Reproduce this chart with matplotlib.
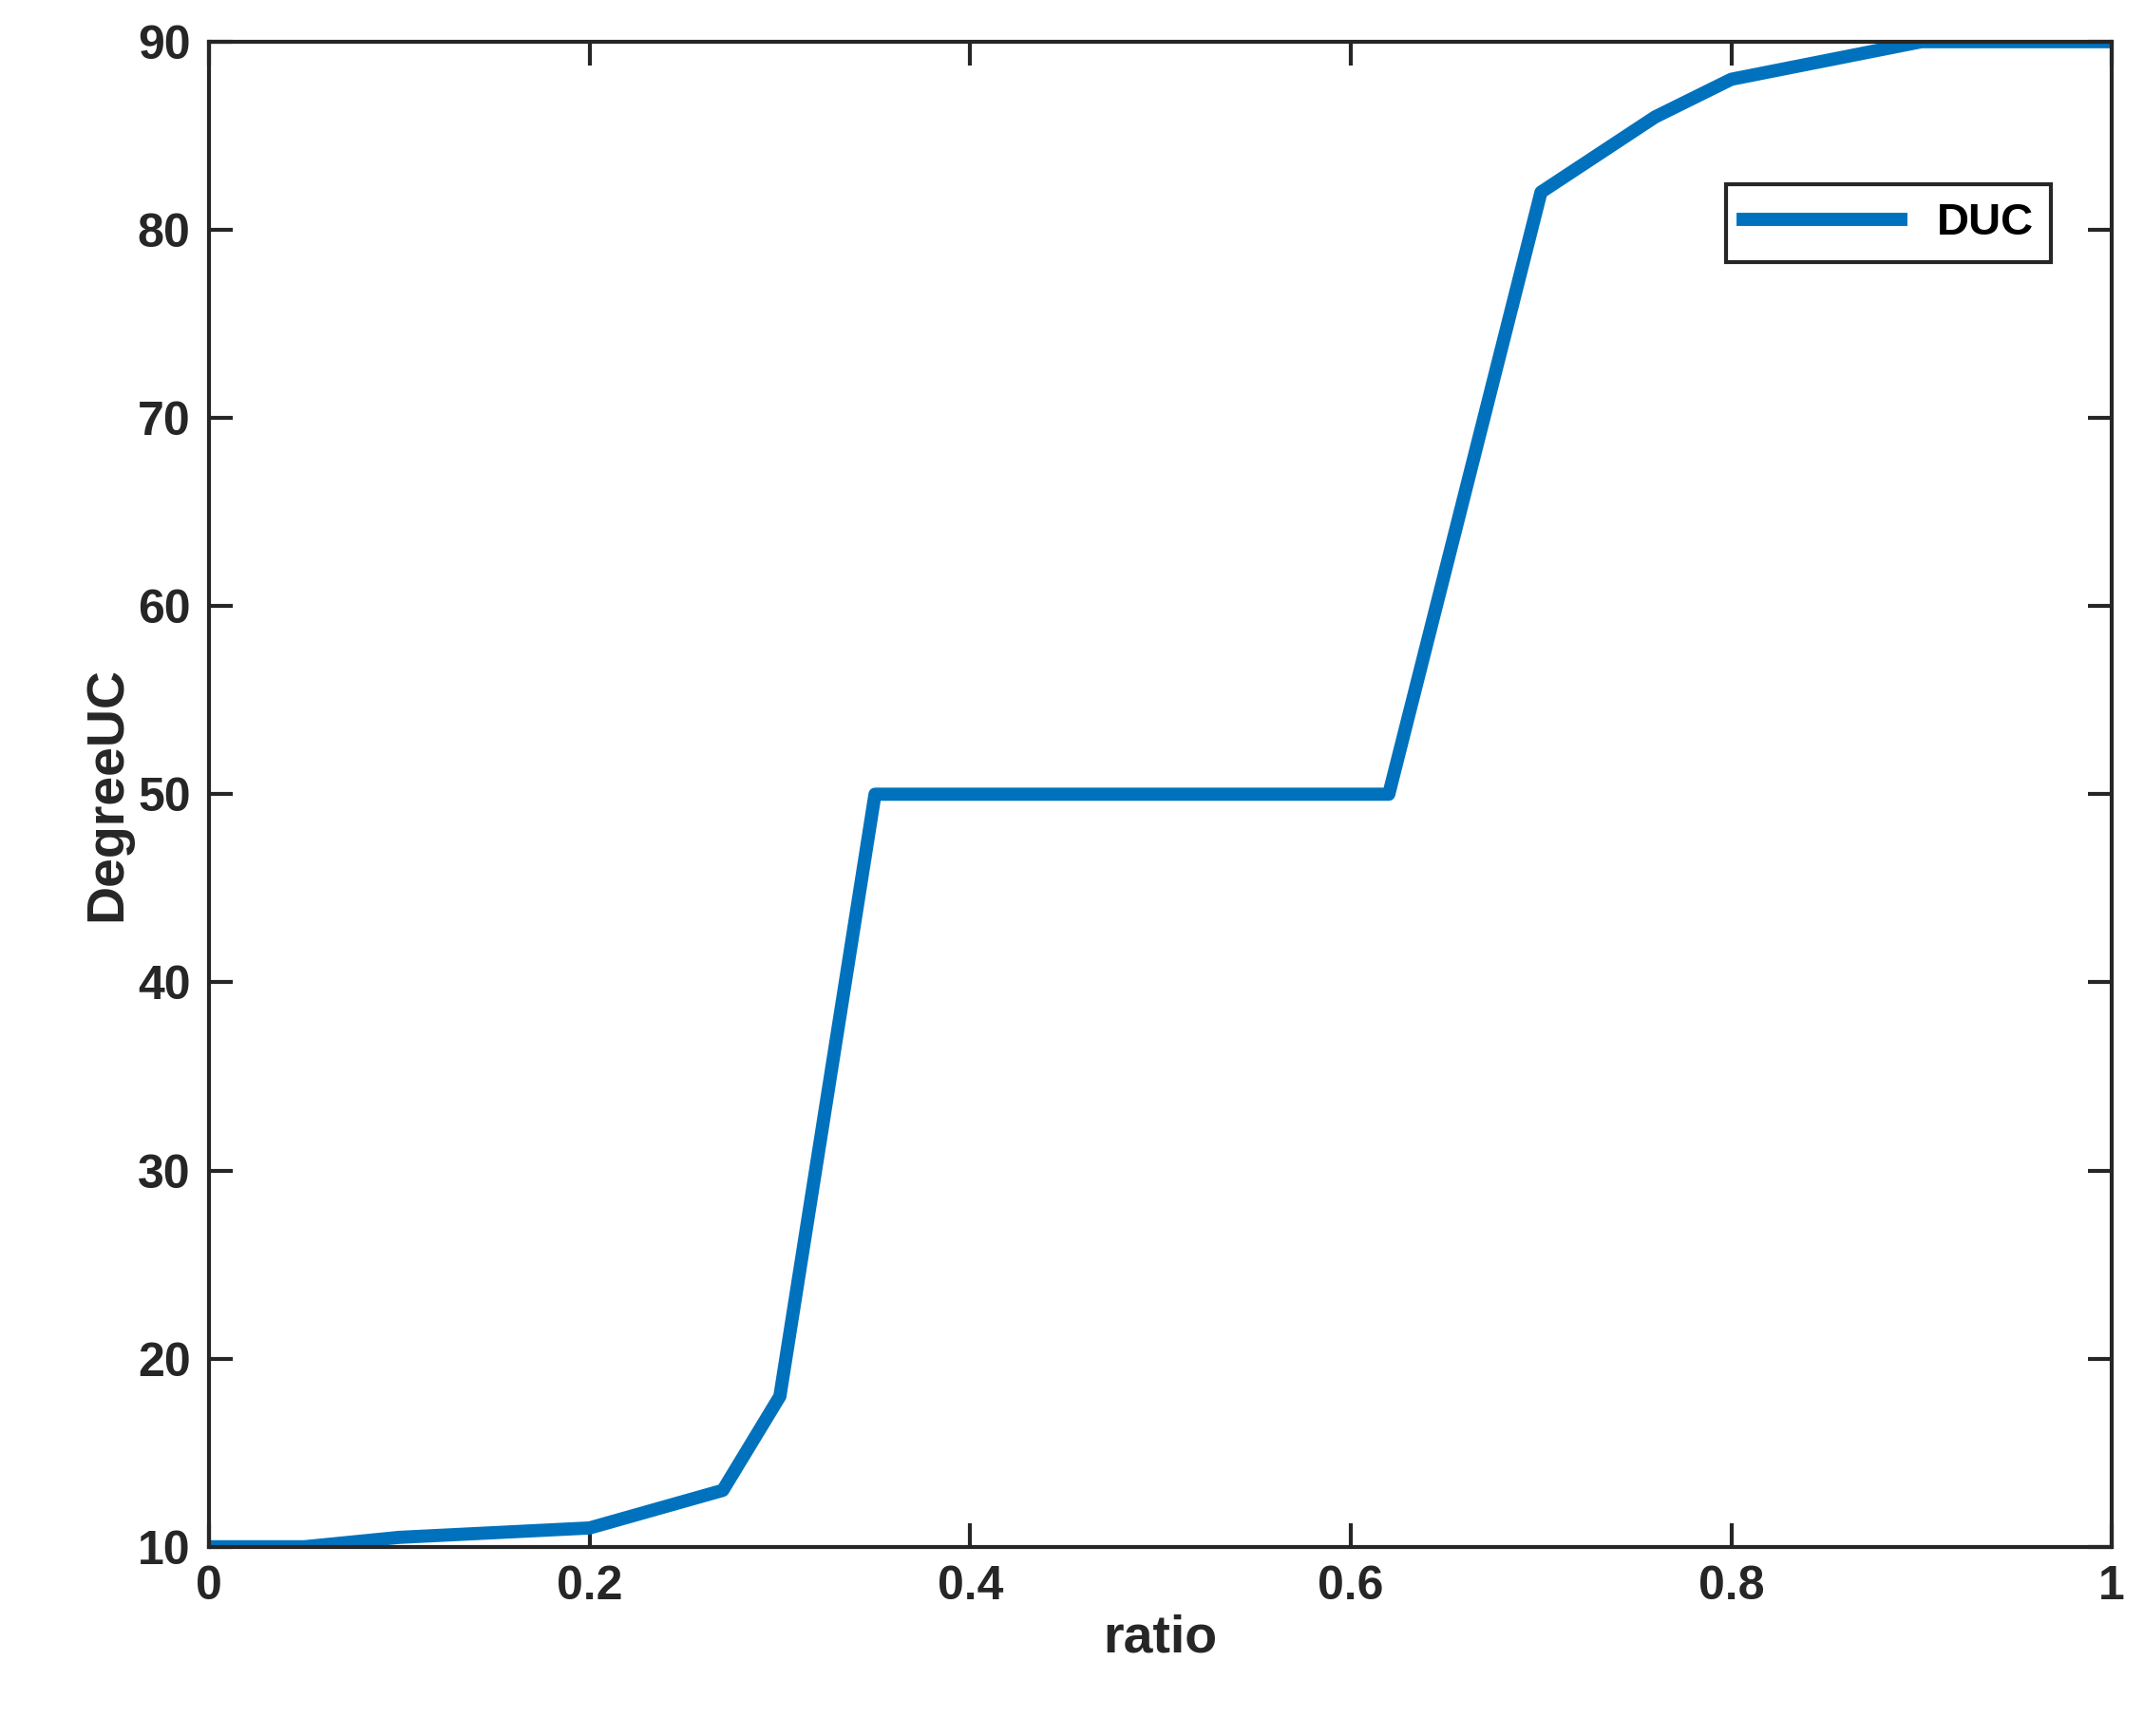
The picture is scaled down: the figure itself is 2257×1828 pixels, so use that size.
import matplotlib
matplotlib.use("Agg")
import matplotlib.pyplot as plt

# values
ratio = [0, 0.05, 0.1, 0.2, 0.27, 0.3, 0.35, 0.62, 0.7, 0.76, 0.8, 0.9, 1.0]
degree = [10, 10, 10.5, 11, 13, 18, 50, 50, 82, 86, 88, 90, 90]
x_ticks = [0, 0.2, 0.4, 0.6, 0.8, 1]
x_labels = ["0", "0.2", "0.4", "0.6", "0.8", "1"]
y_ticks = [10, 20, 30, 40, 50, 60, 70, 80, 90]

plt.rcParams['font.family'] = ['Liberation Sans', 'DejaVu Sans']
plt.rcParams['font.weight'] = 'bold'

fig = plt.figure(figsize=(22.57, 18.28), dpi=100)
ax = fig.add_axes([0.0975, 0.109, 0.8875, 0.867])
ax.plot(ratio, degree, color="#0072BD", linewidth=10, label="DUC")

ax.set_xlim(0, 1)
ax.set_ylim(10, 90)
ax.set_xticks(x_ticks)
ax.set_xticklabels(x_labels)
ax.set_yticks(y_ticks)
ax.tick_params(direction="in", length=18, width=3, labelsize=36,
               top=True, right=True, colors="#262626", pad=14)
for s in ax.spines.values():
    s.set_linewidth(3)
    s.set_color("#262626")

ax.set_xlabel("ratio", fontsize=40, fontweight="bold", color="#262626")
ax.set_ylabel("DegreeUC", fontsize=40, fontweight="bold", color="#262626")

leg = ax.legend(loc="upper right", bbox_to_anchor=(0.98, 0.92), fontsize=34,
                fancybox=False, edgecolor="#262626", handlelength=3.5, framealpha=1)
leg.get_frame().set_linewidth(3)

fig.savefig("out.png", dpi=100)
